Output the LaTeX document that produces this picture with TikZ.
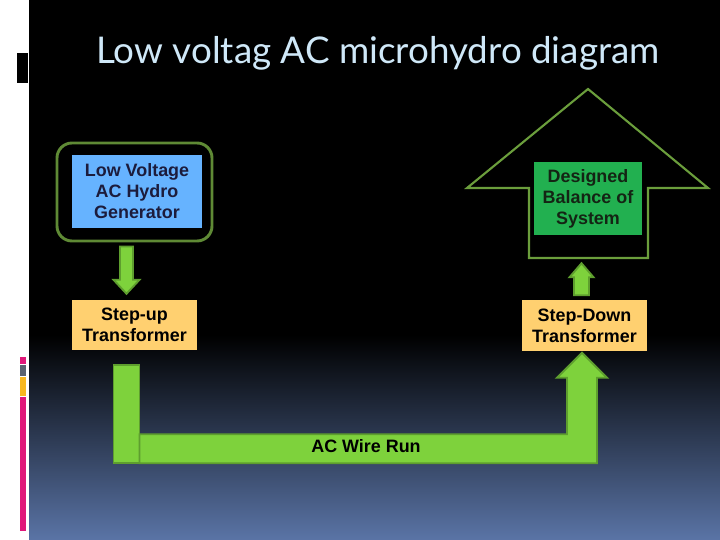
\documentclass[tikz,border=0pt]{standalone}
\usepackage{fontspec}
\setmainfont{Liberation Sans}
\newfontfamily\titlefont{Lato}
\usetikzlibrary{calc}

\definecolor{titleblue}{HTML}{CFE8F8}
\definecolor{genblue}{HTML}{66B3FF}
\definecolor{navytext}{HTML}{1C1C3C}
\definecolor{boxorange}{HTML}{FFD070}
\definecolor{bosgreen}{HTML}{22B050}
\definecolor{bostext}{HTML}{142414}
\definecolor{arrowfill}{HTML}{7ED23C}
\definecolor{arrowline}{HTML}{5E9E2E}
\definecolor{olive}{HTML}{5F8A35}
\definecolor{houseline}{HTML}{6B9E3C}
\definecolor{slate}{HTML}{5A74A6}
\definecolor{stripepink}{HTML}{E0187A}
\definecolor{stripegray}{HTML}{5A6270}
\definecolor{stripeyellow}{HTML}{F8B820}

\begin{document}
\begin{tikzpicture}[
    x=0.03cm, y=-0.03cm,
    box/.style={minimum width=3.75cm, minimum height=1.5cm, inner sep=0pt, align=center,
        font=\bfseries\fontsize{15.3}{17.9}\selectfont},
    genbox/.style={box, fill=genblue, text=navytext, minimum width=3.9cm, minimum height=2.19cm},
    xfmr/.style={box, fill=boxorange, text=black},
    bosbox/.style={box, fill=bosgreen, text=bostext, minimum width=3.24cm, minimum height=2.19cm},
    frame/.style={draw=olive, line width=2.5pt, rounded corners=0.45cm, minimum width=4.65cm, minimum height=2.94cm},
    blockarrow/.style={fill=arrowfill, draw=arrowline, line width=1.6pt, line join=miter},
    title/.style={font=\titlefont\fontsize{31.4}{36}\selectfont, text=titleblue}
]
\useasboundingbox (0,0) rectangle (720,540);

% Slide background
\fill[white] (0,0) rectangle (720,540);
\fill[black] (29,0) rectangle (720,335);
\shade[top color=black, bottom color=slate] (29,335) rectangle (720,540);
\fill[black] (17,53) rectangle (28,83);
\foreach \ya/\yb/\c in {357/364/stripepink, 365/376/stripegray, 377/396/stripeyellow, 397/531/stripepink} {
    \fill[\c] (20,\ya) rectangle (26,\yb);
}

% Title
\node[title] (heading) at (378,53) {Low voltag AC microhydro diagram};

% Generator
\node[frame] (genframe) at (134.5,192) {};
\node[genbox] (gen) at (137,191.5) {Low Voltage\\AC Hydro\\Generator};

% Transformers
\node[xfmr] (stepup) at (134.5,325) {Step-up\\Transformer};
\node[xfmr] (stepdown) at (584.5,325.5) {Step-Down\\Transformer};

% Balance of system (house outline)
\coordinate (apex) at (588,89);
\draw[houseline, line width=1.8pt, line join=miter]
    (apex) -- (708,188) -- (648,188) -- (648,258) -- (529,258) -- (529,188) -- (467,188) -- cycle;
\node[bosbox] (bos) at (588,198.5) {Designed\\Balance of\\System};

% Down arrow: generator to step-up
\coordinate (dntop) at ($(genframe.south)+(-8,4)$);
\coordinate (dntip) at ($(dntop |- stepup.north)+(0,-6)$);
\draw[blockarrow] ($(dntop)+(-6.5,0)$) -- ($(dntop)+(6.5,0)$) -- ($(dntip)+(6.5,-14)$)
    -- ($(dntip)+(13,-14)$) -- (dntip) -- ($(dntip)+(-13,-14)$) -- ($(dntip)+(-6.5,-14)$) -- cycle;

% Up arrow: step-down to balance of system
\coordinate (upbase) at ($(stepdown.north)+(-3,-5)$);
\coordinate (uptip) at ($(upbase)+(0,-32)$);
\draw[blockarrow] ($(upbase)+(-7.5,0)$) -- ($(upbase)+(7.5,0)$) -- ($(uptip)+(7.5,14)$)
    -- ($(uptip)+(12,14)$) -- (uptip) -- ($(uptip)+(-12,14)$) -- ($(uptip)+(-7.5,14)$) -- cycle;

% AC wire run: bent arrow from step-up to step-down
\coordinate (runtop) at ($(stepup.south)+(-8,15)$);
\coordinate (runtip) at ($(stepdown.south)+(-2.5,2)$);
\draw[blockarrow] ($(runtop)+(-13,0)$) rectangle ($(runtop)+(13,98)$);
\draw[blockarrow] ($(runtop)+(13,69)$) -- ($(runtip |- runtop)+(-15,69)$) -- ($(runtip)+(-15,25)$)
    -- ($(runtip)+(-25,25)$) -- (runtip) -- ($(runtip)+(25,25)$) -- ($(runtip)+(15,25)$)
    -- ($(runtip |- runtop)+(15,98)$) -- ($(runtop)+(13,98)$) -- cycle;
\node[font=\bfseries\fontsize{15.3}{17.9}\selectfont] (wire) at (366,446.5) {AC Wire Run};

\end{tikzpicture}
\end{document}
